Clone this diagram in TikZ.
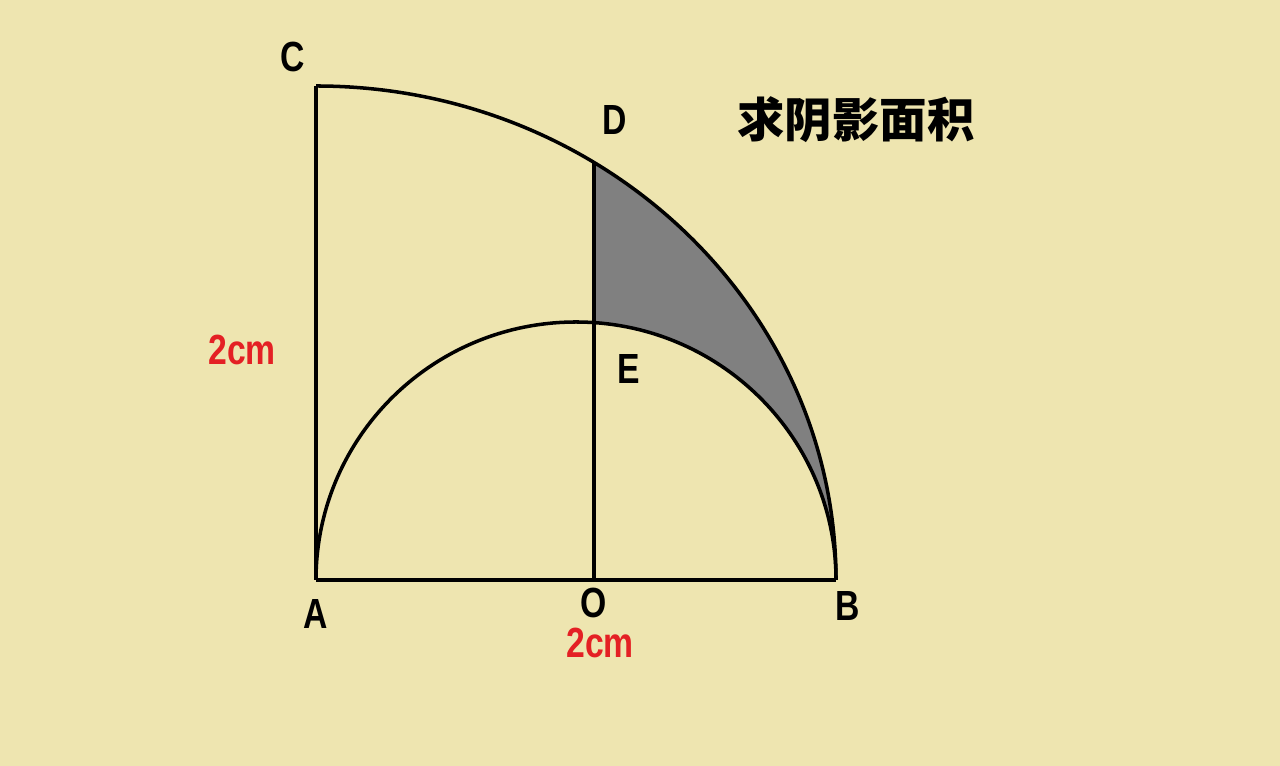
\documentclass[tikz,border=0pt]{standalone}
\usepackage{fontspec}
\setmainfont{Liberation Sans}
\newfontfamily\cjk{Noto Sans CJK SC}
\definecolor{paper}{RGB}{238,229,176}
\definecolor{dimred}{RGB}{228,32,36}
\newcommand{\lbl}[1]{\scalebox{0.8}[1]{\bfseries #1}}
\tikzstyle{pt} = [font=\fontsize{24}{24}\selectfont, inner sep=0pt]
\tikzstyle{dim} = [pt, text=dimred]
\tikzstyle{line} = [draw, line width=2pt]
\tikzstyle{shade} = [fill=black!50]

\begin{document}
\begin{tikzpicture}[x=0.02cm, y=0.02cm]
    \fill [paper] (0,0) rectangle (1280,766);

    % Place points
    \coordinate (A) at (316,186);
    \coordinate (B) at (836,186);
    \coordinate (C) at (316,680);
    \coordinate (O) at (594,186);
    \coordinate (D) at (594,603.5);
    \coordinate (E) at (594,443.4);

    % Shaded part
    \path [shade] (D) arc[start angle=57.68, end angle=0, x radius=520, y radius=494]
        arc[start angle=0, end angle=86.03, x radius=260, y radius=258] -- cycle;

    % Draw edges
    \path [line] (A) -- (B);
    \path [line] (A) -- (C);
    \path [line] (O) -- (D);
    \path [line] (C) arc[start angle=90, end angle=0, x radius=520, y radius=494];
    \path [line] (A) arc[start angle=180, end angle=0, x radius=260, y radius=258];

    % Place labels
    \node [pt] (labC) at (293,709) {\lbl{C}};
    \node [pt] (labD) at (615,646) {\lbl{D}};
    \node [pt] (labE) at (629,397) {\lbl{E}};
    \node [pt] (labA) at (316,152) {\lbl{A}};
    \node [pt] (labO) at (594,163) {\lbl{O}};
    \node [pt] (labB) at (848,160) {\lbl{B}};
    \node [dim] (side) at (242,416) {\lbl{2cm}};
    \node [dim] (base) at (600,123) {\lbl{2cm}};
    \node [font=\cjk\bfseries\fontsize{27}{27}\selectfont, inner sep=0pt] (title) at (856,646) {求阴影面积};
\end{tikzpicture}
\end{document}
